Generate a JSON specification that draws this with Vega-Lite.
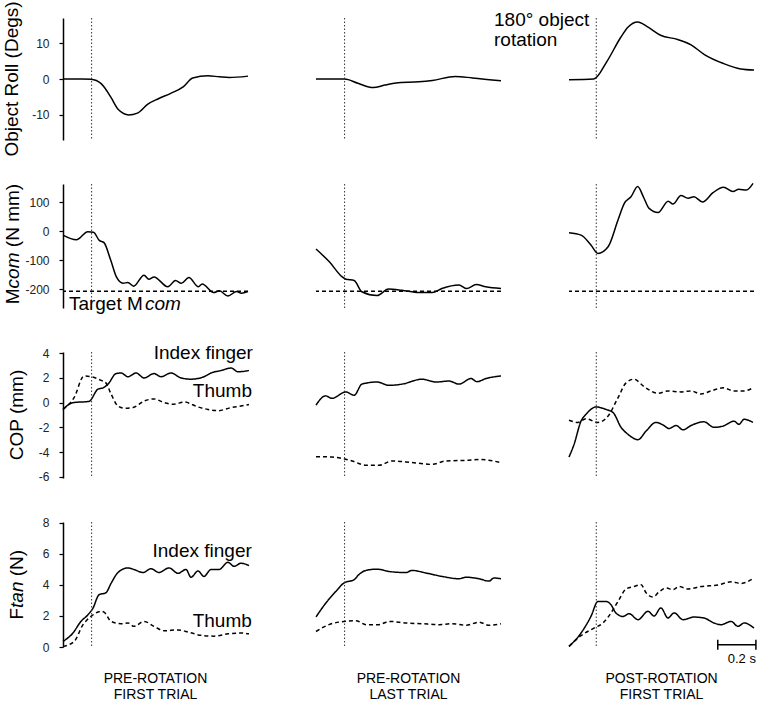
{
"$schema":"https://vega.github.io/schema/vega-lite/v6.json",
"padding":{"left":2,"top":1,"right":2,"bottom":0},
"config":{"view":{"stroke":null},"font":"Liberation Sans","text":{"font":"Liberation Sans","color":"#000"},
"axis":{"domainColor":"#000","domainWidth":1.5,"tickColor":"#000","tickSize":4,"tickWidth":1.2,"labelFontSize":12,"labelColor":"#222","labelPadding":10,"labelFont":"Liberation Sans","grid":false}},
"datasets":{
"roll":[
{"c":1,"t":0,"v":0},{"c":1,"t":0.05,"v":0},{"c":1,"t":0.1,"v":0},{"c":1,"t":0.147,"v":-0.1},{"c":1,"t":0.2,"v":-1.3},{"c":1,"t":0.25,"v":-5},{"c":1,"t":0.29,"v":-8.5},{"c":1,"t":0.345,"v":-10},{"c":1,"t":0.39,"v":-9.5},{"c":1,"t":0.445,"v":-7},{"c":1,"t":0.5,"v":-5.5},{"c":1,"t":0.565,"v":-4},{"c":1,"t":0.63,"v":-2.2},{"c":1,"t":0.68,"v":0.3},{"c":1,"t":0.76,"v":0.9},{"c":1,"t":0.82,"v":0.6},{"c":1,"t":0.87,"v":0.4},{"c":1,"t":0.97,"v":0.8},
{"c":2,"t":0,"v":0},{"c":2,"t":0.15,"v":0},{"c":2,"t":0.22,"v":-1.2},{"c":2,"t":0.3,"v":-2.4},{"c":2,"t":0.36,"v":-1.7},{"c":2,"t":0.42,"v":-1.1},{"c":2,"t":0.54,"v":-0.8},{"c":2,"t":0.61,"v":-0.4},{"c":2,"t":0.73,"v":0.7},{"c":2,"t":0.82,"v":0.3},{"c":2,"t":0.97,"v":-0.5},
{"c":3,"t":0,"v":-0.2},{"c":3,"t":0.13,"v":0},{"c":3,"t":0.2,"v":5},{"c":3,"t":0.27,"v":11.5},{"c":3,"t":0.31,"v":14.5},{"c":3,"t":0.36,"v":15.9},{"c":3,"t":0.41,"v":14.6},{"c":3,"t":0.48,"v":12.2},{"c":3,"t":0.57,"v":11},{"c":3,"t":0.64,"v":9.5},{"c":3,"t":0.71,"v":6.8},{"c":3,"t":0.81,"v":4.3},{"c":3,"t":0.9,"v":2.8},{"c":3,"t":0.97,"v":2.5}
],
"mcom":[
{"c":1,"t":0,"v":-14},{"c":1,"t":0.07,"v":-30},{"c":1,"t":0.13,"v":-2},{"c":1,"t":0.16,"v":-4},{"c":1,"t":0.19,"v":-32},{"c":1,"t":0.215,"v":-40},{"c":1,"t":0.25,"v":-100},{"c":1,"t":0.28,"v":-158},{"c":1,"t":0.315,"v":-180},{"c":1,"t":0.34,"v":-177},{"c":1,"t":0.37,"v":-190},{"c":1,"t":0.425,"v":-152},{"c":1,"t":0.45,"v":-166},{"c":1,"t":0.477,"v":-158},{"c":1,"t":0.55,"v":-192},{"c":1,"t":0.59,"v":-170},{"c":1,"t":0.62,"v":-180},{"c":1,"t":0.66,"v":-160},{"c":1,"t":0.71,"v":-192},{"c":1,"t":0.73,"v":-182},{"c":1,"t":0.79,"v":-212},{"c":1,"t":0.82,"v":-206},{"c":1,"t":0.865,"v":-224},{"c":1,"t":0.91,"v":-208},{"c":1,"t":0.935,"v":-214},{"c":1,"t":0.97,"v":-208},
{"c":2,"t":0,"v":-62},{"c":2,"t":0.07,"v":-106},{"c":2,"t":0.136,"v":-157},{"c":2,"t":0.157,"v":-166},{"c":2,"t":0.2,"v":-170},{"c":2,"t":0.24,"v":-209},{"c":2,"t":0.32,"v":-222},{"c":2,"t":0.38,"v":-200},{"c":2,"t":0.45,"v":-204},{"c":2,"t":0.54,"v":-212},{"c":2,"t":0.61,"v":-212},{"c":2,"t":0.66,"v":-198},{"c":2,"t":0.75,"v":-186},{"c":2,"t":0.79,"v":-198},{"c":2,"t":0.84,"v":-184},{"c":2,"t":0.89,"v":-192},{"c":2,"t":0.97,"v":-198},
{"c":3,"t":0,"v":-6},{"c":3,"t":0.063,"v":-14},{"c":3,"t":0.115,"v":-48},{"c":3,"t":0.152,"v":-77},{"c":3,"t":0.205,"v":-54},{"c":3,"t":0.257,"v":38},{"c":3,"t":0.29,"v":95},{"c":3,"t":0.325,"v":118},{"c":3,"t":0.36,"v":153},{"c":3,"t":0.39,"v":118},{"c":3,"t":0.42,"v":78},{"c":3,"t":0.467,"v":64},{"c":3,"t":0.52,"v":103},{"c":3,"t":0.545,"v":93},{"c":3,"t":0.587,"v":122},{"c":3,"t":0.624,"v":113},{"c":3,"t":0.655,"v":118},{"c":3,"t":0.7,"v":100},{"c":3,"t":0.755,"v":132},{"c":3,"t":0.81,"v":151},{"c":3,"t":0.86,"v":136},{"c":3,"t":0.89,"v":144},{"c":3,"t":0.93,"v":141},{"c":3,"t":0.965,"v":164}
],
"cop":[
{"c":1,"s":"Index","t":0,"v":-0.55},{"c":1,"s":"Index","t":0.052,"v":0},{"c":1,"s":"Index","t":0.136,"v":0.1},{"c":1,"s":"Index","t":0.184,"v":1.1},{"c":1,"s":"Index","t":0.21,"v":1.2},{"c":1,"s":"Index","t":0.236,"v":1.5},{"c":1,"s":"Index","t":0.278,"v":2.35},{"c":1,"s":"Index","t":0.304,"v":2.4},{"c":1,"s":"Index","t":0.341,"v":2.1},{"c":1,"s":"Index","t":0.383,"v":2.4},{"c":1,"s":"Index","t":0.425,"v":2.0},{"c":1,"s":"Index","t":0.477,"v":2.35},{"c":1,"s":"Index","t":0.514,"v":2.1},{"c":1,"s":"Index","t":0.566,"v":2.4},{"c":1,"s":"Index","t":0.619,"v":2.0},{"c":1,"s":"Index","t":0.671,"v":1.9},{"c":1,"s":"Index","t":0.739,"v":2.1},{"c":1,"s":"Index","t":0.776,"v":2.4},{"c":1,"s":"Index","t":0.829,"v":2.6},{"c":1,"s":"Index","t":0.881,"v":2.8},{"c":1,"s":"Index","t":0.918,"v":2.5},{"c":1,"s":"Index","t":0.975,"v":2.6},
{"c":1,"s":"Thumb","t":0,"v":-0.55},{"c":1,"s":"Thumb","t":0.058,"v":0.4},{"c":1,"s":"Thumb","t":0.11,"v":2.15},{"c":1,"s":"Thumb","t":0.147,"v":2.1},{"c":1,"s":"Thumb","t":0.2,"v":1.8},{"c":1,"s":"Thumb","t":0.225,"v":1.6},{"c":1,"s":"Thumb","t":0.252,"v":0.7},{"c":1,"s":"Thumb","t":0.288,"v":-0.27},{"c":1,"s":"Thumb","t":0.32,"v":-0.45},{"c":1,"s":"Thumb","t":0.367,"v":-0.4},{"c":1,"s":"Thumb","t":0.425,"v":0.13},{"c":1,"s":"Thumb","t":0.477,"v":0.3},{"c":1,"s":"Thumb","t":0.53,"v":0},{"c":1,"s":"Thumb","t":0.582,"v":-0.13},{"c":1,"s":"Thumb","t":0.635,"v":0.05},{"c":1,"s":"Thumb","t":0.708,"v":-0.35},{"c":1,"s":"Thumb","t":0.76,"v":-0.55},{"c":1,"s":"Thumb","t":0.813,"v":-0.65},{"c":1,"s":"Thumb","t":0.881,"v":-0.4},{"c":1,"s":"Thumb","t":0.933,"v":-0.27},{"c":1,"s":"Thumb","t":0.975,"v":-0.15},
{"c":2,"s":"Index","t":0,"v":-0.2},{"c":2,"s":"Index","t":0.05,"v":0.55},{"c":2,"s":"Index","t":0.084,"v":0.35},{"c":2,"s":"Index","t":0.156,"v":0.87},{"c":2,"s":"Index","t":0.2,"v":0.6},{"c":2,"s":"Index","t":0.241,"v":1.5},{"c":2,"s":"Index","t":0.32,"v":1.67},{"c":2,"s":"Index","t":0.383,"v":1.4},{"c":2,"s":"Index","t":0.451,"v":1.5},{"c":2,"s":"Index","t":0.556,"v":1.9},{"c":2,"s":"Index","t":0.629,"v":1.67},{"c":2,"s":"Index","t":0.697,"v":1.75},{"c":2,"s":"Index","t":0.75,"v":1.5},{"c":2,"s":"Index","t":0.813,"v":1.95},{"c":2,"s":"Index","t":0.844,"v":1.7},{"c":2,"s":"Index","t":0.891,"v":1.95},{"c":2,"s":"Index","t":0.97,"v":2.16},
{"c":2,"s":"Thumb","t":0,"v":-4.37},{"c":2,"s":"Thumb","t":0.084,"v":-4.4},{"c":2,"s":"Thumb","t":0.189,"v":-4.72},{"c":2,"s":"Thumb","t":0.262,"v":-5.07},{"c":2,"s":"Thumb","t":0.33,"v":-5.07},{"c":2,"s":"Thumb","t":0.4,"v":-4.72},{"c":2,"s":"Thumb","t":0.503,"v":-4.85},{"c":2,"s":"Thumb","t":0.608,"v":-5.0},{"c":2,"s":"Thumb","t":0.682,"v":-4.72},{"c":2,"s":"Thumb","t":0.787,"v":-4.67},{"c":2,"s":"Thumb","t":0.855,"v":-4.6},{"c":2,"s":"Thumb","t":0.97,"v":-4.85},
{"c":3,"s":"Index","t":0,"v":-4.4},{"c":3,"s":"Index","t":0.026,"v":-3.4},{"c":3,"s":"Index","t":0.063,"v":-1.5},{"c":3,"s":"Index","t":0.089,"v":-0.95},{"c":3,"s":"Index","t":0.142,"v":-0.35},{"c":3,"s":"Index","t":0.194,"v":-0.55},{"c":3,"s":"Index","t":0.231,"v":-0.8},{"c":3,"s":"Index","t":0.273,"v":-2.0},{"c":3,"s":"Index","t":0.309,"v":-2.56},{"c":3,"s":"Index","t":0.362,"v":-3.0},{"c":3,"s":"Index","t":0.404,"v":-2.3},{"c":3,"s":"Index","t":0.456,"v":-1.6},{"c":3,"s":"Index","t":0.498,"v":-1.85},{"c":3,"s":"Index","t":0.524,"v":-2.1},{"c":3,"s":"Index","t":0.561,"v":-1.85},{"c":3,"s":"Index","t":0.598,"v":-2.2},{"c":3,"s":"Index","t":0.64,"v":-1.85},{"c":3,"s":"Index","t":0.708,"v":-1.55},{"c":3,"s":"Index","t":0.76,"v":-2.0},{"c":3,"s":"Index","t":0.808,"v":-1.9},{"c":3,"s":"Index","t":0.865,"v":-1.5},{"c":3,"s":"Index","t":0.891,"v":-1.75},{"c":3,"s":"Index","t":0.918,"v":-1.35},{"c":3,"s":"Index","t":0.965,"v":-1.6},
{"c":3,"s":"Thumb","t":0,"v":-1.43},{"c":3,"s":"Thumb","t":0.047,"v":-1.6},{"c":3,"s":"Thumb","t":0.089,"v":-1.3},{"c":3,"s":"Thumb","t":0.152,"v":-1.6},{"c":3,"s":"Thumb","t":0.205,"v":-1.08},{"c":3,"s":"Thumb","t":0.257,"v":0.4},{"c":3,"s":"Thumb","t":0.299,"v":1.6},{"c":3,"s":"Thumb","t":0.341,"v":1.9},{"c":3,"s":"Thumb","t":0.393,"v":1.3},{"c":3,"s":"Thumb","t":0.467,"v":0.76},{"c":3,"s":"Thumb","t":0.519,"v":0.95},{"c":3,"s":"Thumb","t":0.587,"v":0.87},{"c":3,"s":"Thumb","t":0.64,"v":0.95},{"c":3,"s":"Thumb","t":0.692,"v":0.7},{"c":3,"s":"Thumb","t":0.745,"v":0.95},{"c":3,"s":"Thumb","t":0.808,"v":1.2},{"c":3,"s":"Thumb","t":0.865,"v":0.95},{"c":3,"s":"Thumb","t":0.918,"v":0.95},{"c":3,"s":"Thumb","t":0.965,"v":1.2}
],
"ftan":[
{"c":1,"s":"Index","t":0,"v":0.36},{"c":1,"s":"Index","t":0.052,"v":0.9},{"c":1,"s":"Index","t":0.094,"v":1.65},{"c":1,"s":"Index","t":0.131,"v":2.08},{"c":1,"s":"Index","t":0.157,"v":2.5},{"c":1,"s":"Index","t":0.189,"v":3.37},{"c":1,"s":"Index","t":0.225,"v":3.5},{"c":1,"s":"Index","t":0.252,"v":4.1},{"c":1,"s":"Index","t":0.288,"v":4.8},{"c":1,"s":"Index","t":0.341,"v":5.1},{"c":1,"s":"Index","t":0.372,"v":5.0},{"c":1,"s":"Index","t":0.42,"v":4.8},{"c":1,"s":"Index","t":0.461,"v":5.05},{"c":1,"s":"Index","t":0.503,"v":4.8},{"c":1,"s":"Index","t":0.556,"v":5.1},{"c":1,"s":"Index","t":0.603,"v":4.75},{"c":1,"s":"Index","t":0.645,"v":5.0},{"c":1,"s":"Index","t":0.671,"v":4.5},{"c":1,"s":"Index","t":0.708,"v":4.9},{"c":1,"s":"Index","t":0.739,"v":4.55},{"c":1,"s":"Index","t":0.776,"v":5.0},{"c":1,"s":"Index","t":0.818,"v":5.0},{"c":1,"s":"Index","t":0.865,"v":5.46},{"c":1,"s":"Index","t":0.897,"v":5.2},{"c":1,"s":"Index","t":0.933,"v":5.4},{"c":1,"s":"Index","t":0.975,"v":5.25},
{"c":1,"s":"Thumb","t":0,"v":0.04},{"c":1,"s":"Thumb","t":0.058,"v":0.35},{"c":1,"s":"Thumb","t":0.105,"v":1.44},{"c":1,"s":"Thumb","t":0.147,"v":1.97},{"c":1,"s":"Thumb","t":0.2,"v":2.3},{"c":1,"s":"Thumb","t":0.215,"v":2.25},{"c":1,"s":"Thumb","t":0.252,"v":1.65},{"c":1,"s":"Thumb","t":0.304,"v":1.5},{"c":1,"s":"Thumb","t":0.341,"v":1.55},{"c":1,"s":"Thumb","t":0.372,"v":1.33},{"c":1,"s":"Thumb","t":0.425,"v":1.65},{"c":1,"s":"Thumb","t":0.477,"v":1.33},{"c":1,"s":"Thumb","t":0.53,"v":1.05},{"c":1,"s":"Thumb","t":0.603,"v":1.1},{"c":1,"s":"Thumb","t":0.661,"v":0.95},{"c":1,"s":"Thumb","t":0.724,"v":0.75},{"c":1,"s":"Thumb","t":0.792,"v":0.7},{"c":1,"s":"Thumb","t":0.865,"v":0.85},{"c":1,"s":"Thumb","t":0.933,"v":0.9},{"c":1,"s":"Thumb","t":0.975,"v":0.85},
{"c":2,"s":"Index","t":0,"v":1.94},{"c":2,"s":"Index","t":0.052,"v":2.84},{"c":2,"s":"Index","t":0.105,"v":3.6},{"c":2,"s":"Index","t":0.147,"v":4.13},{"c":2,"s":"Index","t":0.2,"v":4.34},{"c":2,"s":"Index","t":0.225,"v":4.67},{"c":2,"s":"Index","t":0.262,"v":4.94},{"c":2,"s":"Index","t":0.32,"v":5.02},{"c":2,"s":"Index","t":0.383,"v":4.87},{"c":2,"s":"Index","t":0.472,"v":4.8},{"c":2,"s":"Index","t":0.503,"v":4.94},{"c":2,"s":"Index","t":0.577,"v":4.77},{"c":2,"s":"Index","t":0.661,"v":4.55},{"c":2,"s":"Index","t":0.75,"v":4.4},{"c":2,"s":"Index","t":0.787,"v":4.5},{"c":2,"s":"Index","t":0.855,"v":4.4},{"c":2,"s":"Index","t":0.907,"v":4.25},{"c":2,"s":"Index","t":0.933,"v":4.45},{"c":2,"s":"Index","t":0.97,"v":4.4},
{"c":2,"s":"Thumb","t":0,"v":1.0},{"c":2,"s":"Thumb","t":0.068,"v":1.44},{"c":2,"s":"Thumb","t":0.147,"v":1.65},{"c":2,"s":"Thumb","t":0.21,"v":1.7},{"c":2,"s":"Thumb","t":0.262,"v":1.44},{"c":2,"s":"Thumb","t":0.33,"v":1.44},{"c":2,"s":"Thumb","t":0.383,"v":1.65},{"c":2,"s":"Thumb","t":0.472,"v":1.55},{"c":2,"s":"Thumb","t":0.556,"v":1.5},{"c":2,"s":"Thumb","t":0.645,"v":1.44},{"c":2,"s":"Thumb","t":0.713,"v":1.5},{"c":2,"s":"Thumb","t":0.787,"v":1.4},{"c":2,"s":"Thumb","t":0.855,"v":1.6},{"c":2,"s":"Thumb","t":0.907,"v":1.4},{"c":2,"s":"Thumb","t":0.97,"v":1.5},
{"c":3,"s":"Index","t":0,"v":0.04},{"c":3,"s":"Index","t":0.063,"v":0.9},{"c":3,"s":"Index","t":0.115,"v":1.97},{"c":3,"s":"Index","t":0.152,"v":2.94},{"c":3,"s":"Index","t":0.194,"v":2.94},{"c":3,"s":"Index","t":0.22,"v":2.73},{"c":3,"s":"Index","t":0.246,"v":2.19},{"c":3,"s":"Index","t":0.283,"v":1.97},{"c":3,"s":"Index","t":0.315,"v":2.15},{"c":3,"s":"Index","t":0.362,"v":1.76},{"c":3,"s":"Index","t":0.414,"v":2.3},{"c":3,"s":"Index","t":0.446,"v":2.0},{"c":3,"s":"Index","t":0.482,"v":2.52},{"c":3,"s":"Index","t":0.519,"v":1.87},{"c":3,"s":"Index","t":0.551,"v":2.2},{"c":3,"s":"Index","t":0.598,"v":1.76},{"c":3,"s":"Index","t":0.655,"v":1.93},{"c":3,"s":"Index","t":0.708,"v":1.87},{"c":3,"s":"Index","t":0.76,"v":1.55},{"c":3,"s":"Index","t":0.797,"v":1.44},{"c":3,"s":"Index","t":0.85,"v":1.65},{"c":3,"s":"Index","t":0.886,"v":1.33},{"c":3,"s":"Index","t":0.918,"v":1.55},{"c":3,"s":"Index","t":0.97,"v":1.22},
{"c":3,"s":"Thumb","t":0,"v":0.04},{"c":3,"s":"Thumb","t":0.063,"v":0.73},{"c":3,"s":"Thumb","t":0.131,"v":1.22},{"c":3,"s":"Thumb","t":0.178,"v":1.55},{"c":3,"s":"Thumb","t":0.22,"v":2.19},{"c":3,"s":"Thumb","t":0.262,"v":3.05},{"c":3,"s":"Thumb","t":0.299,"v":3.74},{"c":3,"s":"Thumb","t":0.341,"v":3.9},{"c":3,"s":"Thumb","t":0.378,"v":4.02},{"c":3,"s":"Thumb","t":0.404,"v":3.5},{"c":3,"s":"Thumb","t":0.44,"v":3.23},{"c":3,"s":"Thumb","t":0.472,"v":3.55},{"c":3,"s":"Thumb","t":0.509,"v":3.8},{"c":3,"s":"Thumb","t":0.545,"v":3.7},{"c":3,"s":"Thumb","t":0.577,"v":3.9},{"c":3,"s":"Thumb","t":0.624,"v":3.74},{"c":3,"s":"Thumb","t":0.692,"v":3.9},{"c":3,"s":"Thumb","t":0.781,"v":4.0},{"c":3,"s":"Thumb","t":0.85,"v":4.2},{"c":3,"s":"Thumb","t":0.902,"v":4.1},{"c":3,"s":"Thumb","t":0.97,"v":4.45}
]
},
"columns":3,
"spacing":{"row":44,"column":68},
"bounds":"flush",
"concat":[
{"width":185,"height":122,"layer":[
{"data":{"name":"roll"},"transform":[{"filter":"datum.c==1"}],"mark":{"type":"line","color":"#000","strokeWidth":1.5,"interpolate":"monotone"},"encoding":{"x":{"field":"t","type":"quantitative","scale":{"domain":[0,0.97],"nice":false,"zero":false},"axis":null},"y":{"field":"v","type":"quantitative","scale":{"domain":[-17,17],"nice":false,"zero":false},"axis":{"values":[-10,0,10],"labelExpr":"'' + datum.value","title":null}}}},
{"data":{"values":[{"t":0.15}]},"mark":{"type":"rule","strokeDash":[1.5,2],"color":"#333","strokeWidth":1},"encoding":{"x":{"field":"t","type":"quantitative","scale":{"domain":[0,0.97],"nice":false,"zero":false},"axis":null}}},
{"data":{"values":[{"t":-0.2375,"v":0,"label":"Object Roll (Degs)"}]},"mark":{"type":"text","angle":270,"align":"center","baseline":"alphabetic","fontSize":19},"encoding":{"x":{"field":"t","type":"quantitative","scale":{"domain":[0,0.97],"nice":false,"zero":false},"axis":null},"y":{"field":"v","type":"quantitative","scale":{"domain":[-17,17],"nice":false,"zero":false},"axis":{"values":[-10,0,10],"labelExpr":"'' + datum.value","title":null}},"text":{"field":"label"}}}
]},
{"width":185,"height":122,"layer":[
{"data":{"name":"roll"},"transform":[{"filter":"datum.c==2"}],"mark":{"type":"line","color":"#000","strokeWidth":1.5,"interpolate":"monotone"},"encoding":{"x":{"field":"t","type":"quantitative","scale":{"domain":[0,0.97],"nice":false,"zero":false},"axis":null},"y":{"field":"v","type":"quantitative","scale":{"domain":[-17,17],"nice":false,"zero":false},"axis":null}}},
{"data":{"values":[{"t":0.15}]},"mark":{"type":"rule","strokeDash":[1.5,2],"color":"#333","strokeWidth":1},"encoding":{"x":{"field":"t","type":"quantitative","scale":{"domain":[0,0.97],"nice":false,"zero":false},"axis":null}}}
]},
{"width":185,"height":122,"layer":[
{"data":{"name":"roll"},"transform":[{"filter":"datum.c==3"}],"mark":{"type":"line","color":"#000","strokeWidth":1.5,"interpolate":"monotone"},"encoding":{"x":{"field":"t","type":"quantitative","scale":{"domain":[0,0.97],"nice":false,"zero":false},"axis":null},"y":{"field":"v","type":"quantitative","scale":{"domain":[-17,17],"nice":false,"zero":false},"axis":null}}},
{"data":{"values":[{"t":0.143}]},"mark":{"type":"rule","strokeDash":[1.5,2],"color":"#333","strokeWidth":1},"encoding":{"x":{"field":"t","type":"quantitative","scale":{"domain":[0,0.97],"nice":false,"zero":false},"axis":null}}},
{"data":{"values":[{"t":-0.393,"v":14.8,"label":"180° object\nrotation"}]},"mark":{"type":"text","align":"left","baseline":"alphabetic","fontSize":19,"lineHeight":20,"lineBreak":"\n"},"encoding":{"x":{"field":"t","type":"quantitative","scale":{"domain":[0,0.97],"nice":false,"zero":false},"axis":null},"y":{"field":"v","type":"quantitative","scale":{"domain":[-17,17],"nice":false,"zero":false},"axis":null},"text":{"field":"label"}}}
]},
{"width":185,"height":124,"layer":[
{"data":{"name":"mcom"},"transform":[{"filter":"datum.c==1"}],"mark":{"type":"line","color":"#000","strokeWidth":1.5,"interpolate":"monotone"},"encoding":{"x":{"field":"t","type":"quantitative","scale":{"domain":[0,0.97],"nice":false,"zero":false},"axis":null},"y":{"field":"v","type":"quantitative","scale":{"domain":[-265,162],"nice":false,"zero":false},"axis":{"values":[-200,-100,0,100],"labelExpr":"'' + datum.value","title":null}}}},
{"data":{"values":[{"t":0.15}]},"mark":{"type":"rule","strokeDash":[1.5,2],"color":"#333","strokeWidth":1},"encoding":{"x":{"field":"t","type":"quantitative","scale":{"domain":[0,0.97],"nice":false,"zero":false},"axis":null}}},
{"data":{"values":[{"v":-207}]},"mark":{"type":"rule","strokeDash":[4,3],"color":"#000","strokeWidth":1.5},"encoding":{"y":{"field":"v","type":"quantitative","scale":{"domain":[-265,162],"nice":false,"zero":false},"axis":{"values":[-200,-100,0,100],"labelExpr":"'' + datum.value","title":null}}}},
{"data":{"values":[{"t":-0.229,"v":-251.9,"label":"M"},{"t":-0.229,"v":-55.6,"label":"(N mm)"},{"t":0.031,"v":-271.9,"label":"Target M"}]},"mark":{"type":"text","align":"left","baseline":"alphabetic","fontSize":19},"encoding":{"x":{"field":"t","type":"quantitative","scale":{"domain":[0,0.97],"nice":false,"zero":false},"axis":null},"y":{"field":"v","type":"quantitative","scale":{"domain":[-265,162],"nice":false,"zero":false},"axis":{"values":[-200,-100,0,100],"labelExpr":"'' + datum.value","title":null}},"text":{"field":"label"},"angle":{"condition":{"test":"datum.t < 0","value":270},"value":0}}},
{"data":{"values":[{"t":-0.229,"v":-197.5,"label":"com"},{"t":0.43,"v":-271.9,"label":"com"}]},"mark":{"type":"text","align":"left","baseline":"alphabetic","fontSize":19,"fontStyle":"italic"},"encoding":{"x":{"field":"t","type":"quantitative","scale":{"domain":[0,0.97],"nice":false,"zero":false},"axis":null},"y":{"field":"v","type":"quantitative","scale":{"domain":[-265,162],"nice":false,"zero":false},"axis":{"values":[-200,-100,0,100],"labelExpr":"'' + datum.value","title":null}},"text":{"field":"label"},"angle":{"condition":{"test":"datum.t < 0","value":270},"value":0}}}
]},
{"width":185,"height":124,"layer":[
{"data":{"name":"mcom"},"transform":[{"filter":"datum.c==2"}],"mark":{"type":"line","color":"#000","strokeWidth":1.5,"interpolate":"monotone"},"encoding":{"x":{"field":"t","type":"quantitative","scale":{"domain":[0,0.97],"nice":false,"zero":false},"axis":null},"y":{"field":"v","type":"quantitative","scale":{"domain":[-265,162],"nice":false,"zero":false},"axis":null}}},
{"data":{"values":[{"t":0.15}]},"mark":{"type":"rule","strokeDash":[1.5,2],"color":"#333","strokeWidth":1},"encoding":{"x":{"field":"t","type":"quantitative","scale":{"domain":[0,0.97],"nice":false,"zero":false},"axis":null}}},
{"data":{"values":[{"v":-207}]},"mark":{"type":"rule","strokeDash":[4,3],"color":"#000","strokeWidth":1.5},"encoding":{"y":{"field":"v","type":"quantitative","scale":{"domain":[-265,162],"nice":false,"zero":false},"axis":null}}}
]},
{"width":185,"height":124,"layer":[
{"data":{"name":"mcom"},"transform":[{"filter":"datum.c==3"}],"mark":{"type":"line","color":"#000","strokeWidth":1.5,"interpolate":"monotone"},"encoding":{"x":{"field":"t","type":"quantitative","scale":{"domain":[0,0.97],"nice":false,"zero":false},"axis":null},"y":{"field":"v","type":"quantitative","scale":{"domain":[-265,162],"nice":false,"zero":false},"axis":null}}},
{"data":{"values":[{"t":0.143}]},"mark":{"type":"rule","strokeDash":[1.5,2],"color":"#333","strokeWidth":1},"encoding":{"x":{"field":"t","type":"quantitative","scale":{"domain":[0,0.97],"nice":false,"zero":false},"axis":null}}},
{"data":{"values":[{"v":-207}]},"mark":{"type":"rule","strokeDash":[4,3],"color":"#000","strokeWidth":1.5},"encoding":{"y":{"field":"v","type":"quantitative","scale":{"domain":[-265,162],"nice":false,"zero":false},"axis":null}}}
]},
{"width":185,"height":126,"layer":[
{"data":{"name":"cop"},"transform":[{"filter":"datum.c==1"}],"mark":{"type":"line","color":"#000","strokeWidth":1.5,"interpolate":"monotone"},"encoding":{"x":{"field":"t","type":"quantitative","scale":{"domain":[0,0.97],"nice":false,"zero":false},"axis":null},"y":{"field":"v","type":"quantitative","scale":{"domain":[-6.1,4.1],"nice":false,"zero":false},"axis":{"values":[-6,-4,-2,0,2,4],"labelExpr":"'' + datum.value","title":null}},"strokeDash":{"field":"s","type":"nominal","scale":{"domain":["Index","Thumb"],"range":[[1,0],[4,3]]},"legend":null}}},
{"data":{"values":[{"t":0.15}]},"mark":{"type":"rule","strokeDash":[1.5,2],"color":"#333","strokeWidth":1},"encoding":{"x":{"field":"t","type":"quantitative","scale":{"domain":[0,0.97],"nice":false,"zero":false},"axis":null}}},
{"data":{"values":[{"t":-0.212,"v":-1.0,"label":"COP (mm)"}]},"mark":{"type":"text","angle":270,"align":"center","baseline":"alphabetic","fontSize":19},"encoding":{"x":{"field":"t","type":"quantitative","scale":{"domain":[0,0.97],"nice":false,"zero":false},"axis":null},"y":{"field":"v","type":"quantitative","scale":{"domain":[-6.1,4.1],"nice":false,"zero":false},"axis":{"values":[-6,-4,-2,0,2,4],"labelExpr":"'' + datum.value","title":null}},"text":{"field":"label"}}},
{"data":{"values":[{"t":0.996,"v":3.5,"label":"Index finger"},{"t":0.991,"v":0.45,"label":"Thumb"}]},"mark":{"type":"text","align":"right","baseline":"alphabetic","fontSize":19},"encoding":{"x":{"field":"t","type":"quantitative","scale":{"domain":[0,0.97],"nice":false,"zero":false},"axis":null},"y":{"field":"v","type":"quantitative","scale":{"domain":[-6.1,4.1],"nice":false,"zero":false},"axis":{"values":[-6,-4,-2,0,2,4],"labelExpr":"'' + datum.value","title":null}},"text":{"field":"label"}}}
]},
{"width":185,"height":126,"layer":[
{"data":{"name":"cop"},"transform":[{"filter":"datum.c==2"}],"mark":{"type":"line","color":"#000","strokeWidth":1.5,"interpolate":"monotone"},"encoding":{"x":{"field":"t","type":"quantitative","scale":{"domain":[0,0.97],"nice":false,"zero":false},"axis":null},"y":{"field":"v","type":"quantitative","scale":{"domain":[-6.1,4.1],"nice":false,"zero":false},"axis":null},"strokeDash":{"field":"s","type":"nominal","scale":{"domain":["Index","Thumb"],"range":[[1,0],[4,3]]},"legend":null}}},
{"data":{"values":[{"t":0.15}]},"mark":{"type":"rule","strokeDash":[1.5,2],"color":"#333","strokeWidth":1},"encoding":{"x":{"field":"t","type":"quantitative","scale":{"domain":[0,0.97],"nice":false,"zero":false},"axis":null}}}
]},
{"width":185,"height":126,"layer":[
{"data":{"name":"cop"},"transform":[{"filter":"datum.c==3"}],"mark":{"type":"line","color":"#000","strokeWidth":1.5,"interpolate":"monotone"},"encoding":{"x":{"field":"t","type":"quantitative","scale":{"domain":[0,0.97],"nice":false,"zero":false},"axis":null},"y":{"field":"v","type":"quantitative","scale":{"domain":[-6.1,4.1],"nice":false,"zero":false},"axis":null},"strokeDash":{"field":"s","type":"nominal","scale":{"domain":["Index","Thumb"],"range":[[1,0],[4,3]]},"legend":null}}},
{"data":{"values":[{"t":0.143}]},"mark":{"type":"rule","strokeDash":[1.5,2],"color":"#333","strokeWidth":1},"encoding":{"x":{"field":"t","type":"quantitative","scale":{"domain":[0,0.97],"nice":false,"zero":false},"axis":null}}}
]},
{"width":185,"height":125,"layer":[
{"data":{"name":"ftan"},"transform":[{"filter":"datum.c==1"}],"mark":{"type":"line","color":"#000","strokeWidth":1.5,"interpolate":"monotone"},"encoding":{"x":{"field":"t","type":"quantitative","scale":{"domain":[0,0.97],"nice":false,"zero":false},"axis":null},"y":{"field":"v","type":"quantitative","scale":{"domain":[0,8.06],"nice":false,"zero":false},"axis":{"values":[0,2,4,6,8],"labelExpr":"'' + datum.value","title":null}},"strokeDash":{"field":"s","type":"nominal","scale":{"domain":["Index","Thumb"],"range":[[1,0],[4,3]]},"legend":null}}},
{"data":{"values":[{"t":0.15}]},"mark":{"type":"rule","strokeDash":[1.5,2],"color":"#333","strokeWidth":1},"encoding":{"x":{"field":"t","type":"quantitative","scale":{"domain":[0,0.97],"nice":false,"zero":false},"axis":null}}},
{"data":{"values":[{"t":-0.21,"v":1.77,"label":"F"},{"t":-0.21,"v":4.56,"label":"(N)"}]},"mark":{"type":"text","angle":270,"align":"left","baseline":"alphabetic","fontSize":19},"encoding":{"x":{"field":"t","type":"quantitative","scale":{"domain":[0,0.97],"nice":false,"zero":false},"axis":null},"y":{"field":"v","type":"quantitative","scale":{"domain":[0,8.06],"nice":false,"zero":false},"axis":{"values":[0,2,4,6,8],"labelExpr":"'' + datum.value","title":null}},"text":{"field":"label"}}},
{"data":{"values":[{"t":-0.21,"v":2.52,"label":"tan"}]},"mark":{"type":"text","angle":270,"align":"left","baseline":"alphabetic","fontSize":19,"fontStyle":"italic"},"encoding":{"x":{"field":"t","type":"quantitative","scale":{"domain":[0,0.97],"nice":false,"zero":false},"axis":null},"y":{"field":"v","type":"quantitative","scale":{"domain":[0,8.06],"nice":false,"zero":false},"axis":{"values":[0,2,4,6,8],"labelExpr":"'' + datum.value","title":null}},"text":{"field":"label"}}},
{"data":{"values":[{"t":0.99,"v":5.83,"label":"Index finger"},{"t":0.99,"v":1.31,"label":"Thumb"}]},"mark":{"type":"text","align":"right","baseline":"alphabetic","fontSize":19},"encoding":{"x":{"field":"t","type":"quantitative","scale":{"domain":[0,0.97],"nice":false,"zero":false},"axis":null},"y":{"field":"v","type":"quantitative","scale":{"domain":[0,8.06],"nice":false,"zero":false},"axis":{"values":[0,2,4,6,8],"labelExpr":"'' + datum.value","title":null}},"text":{"field":"label"}}},
{"data":{"values":[{"t":0.485,"v":-2.3,"label":"PRE-ROTATION\nFIRST TRIAL"}]},"mark":{"type":"text","align":"center","baseline":"alphabetic","fontSize":14,"lineHeight":16,"lineBreak":"\n"},"encoding":{"x":{"field":"t","type":"quantitative","scale":{"domain":[0,0.97],"nice":false,"zero":false},"axis":null},"y":{"field":"v","type":"quantitative","scale":{"domain":[0,8.06],"nice":false,"zero":false},"axis":{"values":[0,2,4,6,8],"labelExpr":"'' + datum.value","title":null}},"text":{"field":"label"}}}
]},
{"width":185,"height":125,"layer":[
{"data":{"name":"ftan"},"transform":[{"filter":"datum.c==2"}],"mark":{"type":"line","color":"#000","strokeWidth":1.5,"interpolate":"monotone"},"encoding":{"x":{"field":"t","type":"quantitative","scale":{"domain":[0,0.97],"nice":false,"zero":false},"axis":null},"y":{"field":"v","type":"quantitative","scale":{"domain":[0,8.06],"nice":false,"zero":false},"axis":null},"strokeDash":{"field":"s","type":"nominal","scale":{"domain":["Index","Thumb"],"range":[[1,0],[4,3]]},"legend":null}}},
{"data":{"values":[{"t":0.15}]},"mark":{"type":"rule","strokeDash":[1.5,2],"color":"#333","strokeWidth":1},"encoding":{"x":{"field":"t","type":"quantitative","scale":{"domain":[0,0.97],"nice":false,"zero":false},"axis":null}}},
{"data":{"values":[{"t":0.485,"v":-2.3,"label":"PRE-ROTATION\nLAST TRIAL"}]},"mark":{"type":"text","align":"center","baseline":"alphabetic","fontSize":14,"lineHeight":16,"lineBreak":"\n"},"encoding":{"x":{"field":"t","type":"quantitative","scale":{"domain":[0,0.97],"nice":false,"zero":false},"axis":null},"y":{"field":"v","type":"quantitative","scale":{"domain":[0,8.06],"nice":false,"zero":false},"axis":null},"text":{"field":"label"}}}
]},
{"width":185,"height":125,"layer":[
{"data":{"name":"ftan"},"transform":[{"filter":"datum.c==3"}],"mark":{"type":"line","color":"#000","strokeWidth":1.5,"interpolate":"monotone"},"encoding":{"x":{"field":"t","type":"quantitative","scale":{"domain":[0,0.97],"nice":false,"zero":false},"axis":null},"y":{"field":"v","type":"quantitative","scale":{"domain":[0,8.06],"nice":false,"zero":false},"axis":null},"strokeDash":{"field":"s","type":"nominal","scale":{"domain":["Index","Thumb"],"range":[[1,0],[4,3]]},"legend":null}}},
{"data":{"values":[{"t":0.143}]},"mark":{"type":"rule","strokeDash":[1.5,2],"color":"#333","strokeWidth":1},"encoding":{"x":{"field":"t","type":"quantitative","scale":{"domain":[0,0.97],"nice":false,"zero":false},"axis":null}}},
{"data":{"values":[{"t":0.78,"t2":0.98,"v":0.15}]},"mark":{"type":"rule","color":"#000","strokeWidth":1.5},"encoding":{"x":{"field":"t","type":"quantitative","scale":{"domain":[0,0.97],"nice":false,"zero":false},"axis":null},"x2":{"field":"t2"},"y":{"field":"v","type":"quantitative","scale":{"domain":[0,8.06],"nice":false,"zero":false},"axis":null}}},
{"data":{"values":[{"t":0.78,"v":-0.17,"v2":0.47},{"t":0.98,"v":-0.17,"v2":0.47}]},"mark":{"type":"rule","color":"#000","strokeWidth":1.5},"encoding":{"x":{"field":"t","type":"quantitative","scale":{"domain":[0,0.97],"nice":false,"zero":false},"axis":null},"y":{"field":"v","type":"quantitative","scale":{"domain":[0,8.06],"nice":false,"zero":false},"axis":null},"y2":{"field":"v2"}}},
{"data":{"values":[{"t":0.98,"v":-1.0,"label":"0.2 s"}]},"mark":{"type":"text","align":"right","baseline":"alphabetic","fontSize":13},"encoding":{"x":{"field":"t","type":"quantitative","scale":{"domain":[0,0.97],"nice":false,"zero":false},"axis":null},"y":{"field":"v","type":"quantitative","scale":{"domain":[0,8.06],"nice":false,"zero":false},"axis":null},"text":{"field":"label"}}},
{"data":{"values":[{"t":0.485,"v":-2.3,"label":"POST-ROTATION\nFIRST TRIAL"}]},"mark":{"type":"text","align":"center","baseline":"alphabetic","fontSize":14,"lineHeight":16,"lineBreak":"\n"},"encoding":{"x":{"field":"t","type":"quantitative","scale":{"domain":[0,0.97],"nice":false,"zero":false},"axis":null},"y":{"field":"v","type":"quantitative","scale":{"domain":[0,8.06],"nice":false,"zero":false},"axis":null},"text":{"field":"label"}}}
]}
]
}
